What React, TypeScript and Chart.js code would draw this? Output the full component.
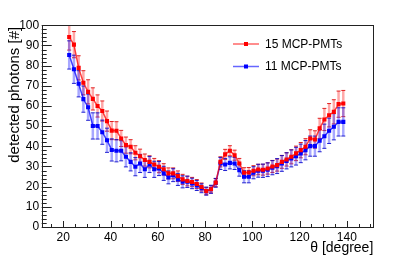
import React, { useEffect, useRef } from "react";
import { Chart, registerables } from "chart.js";

Chart.register(...registerables);

const theta = [
  22.5, 24.5, 26.5, 28.5, 30.5, 32.5, 34.5, 36.5, 38.5, 40.5,
  42.5, 44.5, 46.5, 48.5, 50.5, 52.5, 54.5, 56.5, 58.5, 60.5,
  62.5, 64.5, 66.5, 68.5, 70.5, 72.5, 74.5, 76.5, 78.5, 80.5,
  82.5, 84.5, 86.5, 88.5, 90.5, 92.5, 94.5, 96.5, 98.5, 100.5,
  102.5, 104.5, 106.5, 108.5, 110.5, 112.5, 114.5, 116.5, 118.5, 120.5,
  122.5, 124.5, 126.5, 128.5, 130.5, 132.5, 134.5, 136.5, 138.5,
];

const photons15 = [
  94.2, 90.4, 78.9, 71.5, 67, 63.5, 60, 57.5, 52.5, 47.8,
  47.7, 43.9, 40.6, 39.8, 36.8, 35.1, 33.2, 32.3, 31, 29.9,
  28.6, 26.6, 26.6, 25.2, 23.6, 22.8, 22.3, 21.3, 19.8, 17.8,
  18.7, 22, 32.3, 36, 37.8, 35.6, 31.5, 26.9, 27, 27.9,
  28.5, 28.4, 29, 30, 30.7, 32.3, 33.5, 34.8, 36.5, 38.1,
  39.8, 43.9, 43.4, 48.9, 53.3, 55.4, 57.1, 60.9, 61.2,
];
const err15 = [
  6.5, 6.5, 6, 6, 6, 5.5, 5.5, 5, 5, 4.5,
  4.5, 4, 4, 3.5, 3.5, 3.5, 3, 3, 3, 3,
  2.8, 2.7, 2.7, 2.6, 2.5, 2.4, 2.3, 2.2, 2, 1.8,
  1.8, 2, 2.5, 2.5, 2.5, 2.5, 2.5, 2.5, 2.5, 2.5,
  2.6, 2.7, 2.8, 3, 3, 3.2, 3.3, 3.5, 3.6, 3.8,
  4, 4.3, 4.3, 5, 5.5, 5.8, 6, 6.5, 6.5,
];

const photons11 = [
  85.3, 78.2, 71, 63.4, 59.4, 50.1, 50.1, 47, 43, 38.2,
  37.8, 37.8, 34.8, 32.3, 29.9, 31.5, 28.6, 31, 28.6, 29,
  26.6, 24.6, 25.7, 23.6, 22.4, 22.4, 21.6, 20.6, 19.2, 17.8,
  18.7, 21.9, 31.5, 31, 31.8, 31.5, 28.2, 24.9, 24.9, 26.9,
  27.9, 27.9, 28.4, 29.4, 30.2, 31.5, 32.8, 34, 35.1, 36.5,
  38.1, 40.1, 40.1, 42.8, 45, 47.7, 49.7, 52.1, 52.1,
];
const err11 = [
  7, 7, 6.5, 6.5, 6.5, 6.5, 6.5, 6, 6, 5.5,
  5.5, 5, 5, 4.5, 4.5, 4.5, 4, 4, 4, 3.5,
  3.5, 3.2, 3.2, 3, 3, 2.8, 2.6, 2.5, 2.2, 2,
  2, 2.2, 3, 3, 3, 3, 3, 3, 3, 3,
  3.2, 3.3, 3.4, 3.5, 3.7, 3.9, 4, 4.2, 4.4, 4.6,
  4.8, 5, 5, 5.5, 6, 6.3, 6.5, 7, 7,
];

const seriesNames = ["15 MCP-PMTs", "11 MCP-PMTs"];
const xTicks = [20, 40, 60, 80, 100, 120, 140];
const yTicks = [0, 10, 20, 30, 40, 50, 60, 70, 80, 90, 100];
const xTitle = "\u03b8 [degree]";
const yTitle = "detected photons [#]";

const FONT = "'Liberation Sans', Arial, Helvetica, sans-serif";

const errorSets = [err15, err11];
const errColors = ["rgba(255,60,60,0.45)", "rgba(60,60,255,0.45)"];
const capColors = ["rgba(220,0,0,0.85)", "rgba(0,0,200,0.85)"];
const lineColors = ["rgba(255,0,0,0.75)", "rgba(0,0,255,0.75)"];
const markColors = ["#ff0000", "#0000ff"];

const errorBarPlugin = {
  id: "errbars",
  beforeDatasetsDraw(chart: any) {
    const ctx = chart.ctx;
    const xs = chart.scales.x;
    const ys = chart.scales.y;
    const a = chart.chartArea;
    ctx.save();
    ctx.beginPath();
    ctx.rect(a.left, a.top, a.right - a.left, a.bottom - a.top);
    ctx.clip();
    chart.data.datasets.forEach((ds: any, i: number) => {
      const errs = errorSets[i];
      ds.data.forEach((p: any, j: number) => {
        const px = xs.getPixelForValue(p.x);
        const y1 = ys.getPixelForValue(p.y + errs[j]);
        const y2 = ys.getPixelForValue(p.y - errs[j]);
        ctx.strokeStyle = errColors[i];
        ctx.lineWidth = 2.5;
        ctx.beginPath();
        ctx.moveTo(px, y1);
        ctx.lineTo(px, y2);
        ctx.stroke();
        ctx.strokeStyle = capColors[i];
        ctx.lineWidth = 1;
        ctx.beginPath();
        ctx.moveTo(px - 2, y1);
        ctx.lineTo(px + 2, y1);
        ctx.moveTo(px - 2, y2);
        ctx.lineTo(px + 2, y2);
        ctx.stroke();
      });
    });
    ctx.restore();
  },
};

const framePlugin = {
  id: "frame",
  afterDraw(chart: any) {
    const ctx = chart.ctx;
    const a = chart.chartArea;
    const xs = chart.scales.x;
    const ys = chart.scales.y;
    ctx.save();
    ctx.strokeStyle = "#222";
    ctx.lineWidth = 1;
    ctx.strokeRect(Math.round(a.left) + 0.5, Math.round(a.top) + 0.5,
      Math.round(a.right) - Math.round(a.left), Math.round(a.bottom) - Math.round(a.top));
    ctx.beginPath();
    for (let v = 0; v <= 100; v += 2) {
      const y = Math.round(ys.getPixelForValue(v)) + 0.5;
      const len = v % 10 === 0 ? 10 : 5;
      ctx.moveTo(a.left, y);
      ctx.lineTo(a.left + len, y);
    }
    for (let v = 15; v <= 150; v += 5) {
      const x = Math.round(xs.getPixelForValue(v)) + 0.5;
      const len = v % 20 === 0 ? 6 : 3;
      ctx.moveTo(x, a.bottom);
      ctx.lineTo(x, a.bottom - len);
    }
    ctx.stroke();

    ctx.fillStyle = "#000";
    ctx.font = `14px ${FONT}`;
    ctx.textAlign = "right";
    ctx.textBaseline = "alphabetic";
    ctx.fillText(xTitle, a.right, 252);
    ctx.save();
    ctx.font = `15px ${FONT}`;
    ctx.translate(18.5, a.top + 1.5);
    ctx.rotate(-Math.PI / 2);
    ctx.textAlign = "right";
    ctx.fillText(yTitle, 0, 0);
    ctx.restore();

    ctx.font = `12px ${FONT}`;
    ctx.textAlign = "left";
    ctx.textBaseline = "middle";
    const rows = [44, 66.5];
    chart.data.datasets.forEach((ds: any, i: number) => {
      const y = rows[i];
      ctx.strokeStyle = lineColors[i];
      ctx.lineWidth = 1.5;
      ctx.globalAlpha = 0.8;
      ctx.beginPath();
      ctx.moveTo(233, y);
      ctx.lineTo(259, y);
      ctx.stroke();
      ctx.globalAlpha = 1;
      ctx.fillStyle = markColors[i];
      ctx.fillRect(244, y - 2, 4, 4);
      ctx.fillStyle = "#000";
      ctx.fillText(ds.label, 265, y + 0.5);
    });
    ctx.restore();
  },
};

export default function App() {
  const ref = useRef<HTMLCanvasElement | null>(null);
  useEffect(() => {
    if (!ref.current) return;
    const mk = (ys: number[]) => theta.map((x, i) => ({ x, y: ys[i] }));
    const chart = new Chart(ref.current, {
      type: "line",
      data: {
        datasets: [
          {
            label: seriesNames[0],
            data: mk(photons15),
            borderColor: lineColors[0],
            backgroundColor: markColors[0],
            borderWidth: 1.5,
            pointStyle: "rect",
            pointRadius: 2.9,
            pointBorderWidth: 0,
            pointBackgroundColor: markColors[0],
            tension: 0,
          },
          {
            label: seriesNames[1],
            data: mk(photons11),
            borderColor: lineColors[1],
            backgroundColor: markColors[1],
            borderWidth: 1.5,
            pointStyle: "rect",
            pointRadius: 2.9,
            pointBorderWidth: 0,
            pointBackgroundColor: markColors[1],
            tension: 0,
          },
        ],
      },
      options: {
        responsive: false,
        animation: false,
        devicePixelRatio: 1,
        layout: { padding: { left: 0, right: 41.7, top: 25.3, bottom: 0 } },
        plugins: { legend: { display: false }, tooltip: { enabled: false } },
        scales: {
          x: {
            type: "linear",
            min: 10.86,
            max: 151.2,
            grid: { display: false, drawTicks: false },
            border: { display: false },
            afterBuildTicks: (s: any) => {
              s.ticks = xTicks.map((v) => ({ value: v }));
            },
            afterFit: (s: any) => {
              s.height = 32;
            },
            ticks: {
              autoSkip: false,
              maxRotation: 0,
              padding: 3,
              color: "#000",
              font: { family: FONT, size: 12 },
            },
          },
          y: {
            type: "linear",
            min: 0,
            max: 100,
            grid: { display: false, drawTicks: false },
            border: { display: false },
            afterBuildTicks: (s: any) => {
              s.ticks = yTicks.map((v) => ({ value: v }));
            },
            afterFit: (s: any) => {
              s.width = 41.7;
            },
            ticks: {
              autoSkip: false,
              padding: 2.5,
              color: "#000",
              font: { family: FONT, size: 12 },
            },
          },
        },
      } as any,
      plugins: [errorBarPlugin, framePlugin],
    });
    return () => chart.destroy();
  }, []);
  return (
    <div style={{ position: "absolute", left: 0, top: 0, width: 415, height: 259, background: "#fff" }}>
      <canvas ref={ref} width={415} height={259} style={{ display: "block" }} />
    </div>
  );
}
